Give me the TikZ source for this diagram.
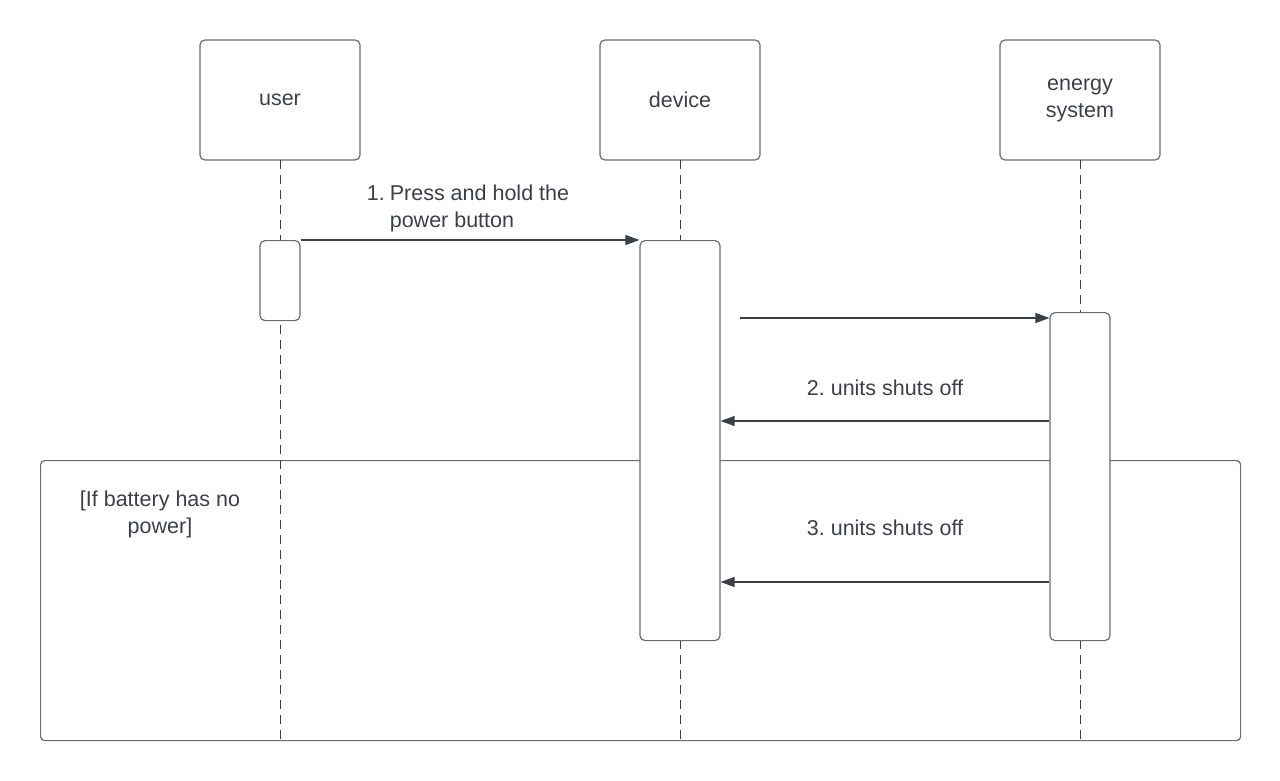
\documentclass[tikz,border=0pt]{standalone}
\usepackage{fontspec}
\setmainfont{Liberation Sans}
\usetikzlibrary{positioning, calc, arrows.meta}
\definecolor{ink}{RGB}{59,64,72}
\definecolor{edge}{RGB}{105,108,113}
\tikzset{>={Triangle[width=10pt,length=14pt]}}
\def \minheadwidth {160pt}
\def \minheadheight {120pt}
\tikzset{
  head/.style = {draw = edge, line width = 1.2pt, rounded corners = 5pt, outer sep = 0pt, minimum width = \minheadwidth, minimum height = \minheadheight, align = center, text = ink},
  bar/.style = {draw = edge, fill = white, line width = 1.2pt, rounded corners = 5pt, minimum width = 40pt, inner sep = 0pt},
  life/.style = {ink, line width = 0.9pt, dash pattern = on 9pt off 6pt},
  msg/.style = {ink, line width = 1.3pt},
  lbl/.style = {text = ink, align = center},
}

\begin{document}
\begin{tikzpicture}[x = 1pt, y = -1pt]
\fontsize{21.5}{27}\selectfont\frenchspacing
\useasboundingbox (0,0) rectangle (1280,781);

\node (user) [head] at (280,100) {user};
\node (device) [head, right = 240pt of user] {device};
\node (energy) [head, right = 240pt of device] {energy\\system};

% alternative frame
\node (frame) [draw = edge, line width = 1.2pt, rounded corners = 4pt, inner sep = 0pt, minimum width = 1200pt, minimum height = 280pt, anchor = north west] at (40,460) {};
\node (guard) [lbl] at (160,514) {[If battery has no\\power]};

% lifelines
\coordinate (bottom) at (0,740);
\draw[life] (user.south) to (user.south |- bottom);
\draw[life] (device.south) to (device.south |- bottom);
\draw[life] (energy.south) to (energy.south |- bottom);

% activations
\node (useract) [bar, minimum height = 80pt, anchor = north] at (280,240) {};
\node (devact) [bar, minimum width = 80pt, minimum height = 400pt, anchor = north] at (680,240) {};
\node (energyact) [bar, minimum width = 60pt, minimum height = 328pt, anchor = north] at (1080,312) {};

% messages
\draw[->, msg] (useract.north east) to (devact.north west);
\node (m1) [lbl] at (468,209) {\begin{tabular}{@{}l@{\hspace{5pt}}l@{}}1. & Press and hold the\\ & power button\end{tabular}};

\coordinate (m2start) at (740,318);
\draw[->, msg] (m2start) to (m2start -| energyact.west);

\coordinate (r2) at (0,421);
\draw[->, msg] (energyact.west |- r2) to (devact.east |- r2);
\node (m3) [lbl] at (885,388) {2. units shuts off};

\coordinate (r3) at (0,582);
\draw[->, msg] (energyact.west |- r3) to (devact.east |- r3);
\node (m4) [lbl] at (885,528) {3. units shuts off};

\end{tikzpicture}
\end{document}
